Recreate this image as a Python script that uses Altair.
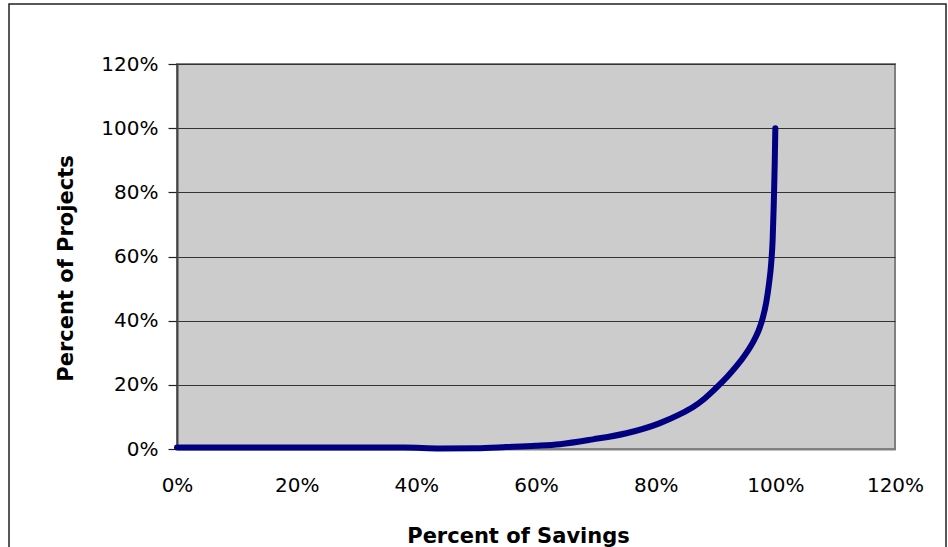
import altair as alt
import pandas as pd

# Percent of Savings (x) vs Percent of Projects (y), both in percent
savings = [0, 38, 44, 50, 55, 60, 64, 69.5, 75.1, 80.6, 84, 86.2, 88.1, 90.2, 92, 93.5, 95, 96.3, 97.2,
           97.9, 98.5, 98.9, 99.3, 99.55, 99.75, 99.9, 100]
projects = [0.45, 0.45, 0.15, 0.25, 0.6, 1.0, 1.5, 3.0, 4.9, 8.0, 10.8, 13.0, 15.6, 19.2, 22.6, 25.8, 29.5, 33.4, 36.9,
            40.8, 45.9, 50.9, 57.7, 65.2, 77, 89, 100]
tick_values = [0, 20, 40, 60, 80, 100, 120]

df = pd.DataFrame({"savings": savings, "projects": projects})

FONT = "DejaVu Sans"
W, H = 718, 385

line = alt.Chart(df).mark_line(
    color="#000080", strokeWidth=6, strokeCap="round", strokeJoin="round", interpolate="monotone"
).encode(
    x=alt.X("savings:Q",
            scale=alt.Scale(domain=[0, 120], nice=False, zero=False),
            axis=alt.Axis(values=tick_values, labelExpr="datum.value + '%'",
                          title="Percent of Savings", grid=False, ticks=False,
                          labelPadding=26, labelFontSize=20, labelFont=FONT, labelColor="#000",
                          domainColor="#808080", domainWidth=2,
                          titleFont=FONT, titleFontSize=21, titleFontWeight="bold", titleColor="#000",
                          titleX=341, titleY=93, titleBaseline="alphabetic", titleAnchor="middle",
                          labelOverlap=False, labelFlush=False)),
    y=alt.Y("projects:Q",
            scale=alt.Scale(domain=[0, 120], nice=False, zero=False),
            axis=alt.Axis(values=tick_values, labelExpr="datum.value + '%'",
                          title="Percent of Projects", grid=True, gridColor="#333", gridWidth=1,
                          tickSize=9, tickColor="#222", tickWidth=1.2, labelPadding=10,
                          labelFontSize=20, labelFont=FONT, labelColor="#000",
                          domainColor="#444", domainWidth=2,
                          titleFont=FONT, titleFontSize=21, titleFontWeight="bold", titleColor="#000",
                          titleAngle=-90, titleX=-105, titleY=204, titleBaseline="alphabetic",
                          titleAnchor="middle", labelOverlap=False, labelFlush=False)),
)

border = alt.Chart(pd.DataFrame({"a": [0]})).mark_rect(
    filled=False, stroke="#222", strokeWidth=1.5
).encode(
    x=alt.value(-168), x2=alt.value(769), y=alt.value(-60), y2=alt.value(520)
)

chart = alt.layer(line, border).properties(
    width=W, height=H,
    background="white",
    autosize=alt.AutoSizeParams(type="none"),
    padding={"left": 177, "top": 64, "right": 53, "bottom": 98},
).configure_view(
    fill="#CCCCCC", stroke="#808080", strokeWidth=2
)

chart.save("out.html", embed_options={"renderer": "svg", "actions": False})
